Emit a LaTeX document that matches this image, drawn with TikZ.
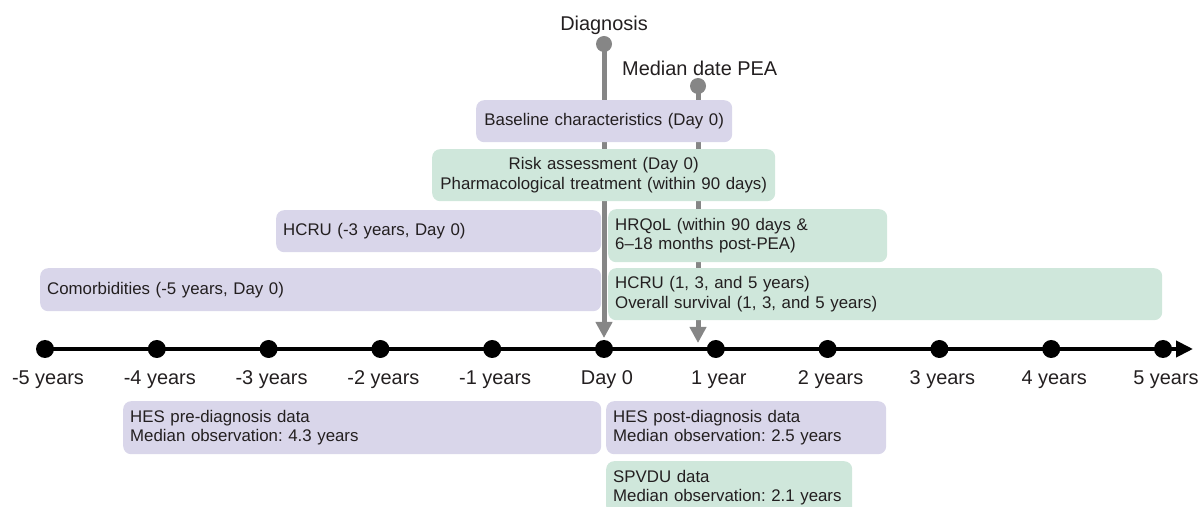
\documentclass[tikz,border=0pt]{standalone}
\usepackage{fontspec}
\setmainfont{Liberation Sans}
\usetikzlibrary{arrows.meta}
\definecolor{pfill}{HTML}{D9D6EA}
\definecolor{gfill}{HTML}{CFE7DB}
\definecolor{txt}{HTML}{231F20}
\definecolor{gline}{HTML}{868686}
\frenchspacing
\begin{document}
\begin{tikzpicture}[x=1bp,y=-1bp,
 box/.style={rounded corners=8bp, inner xsep=7bp, inner ysep=0pt, anchor=north west,
   font=\fontsize{16.9}{19.5}\selectfont, text=txt, align=left},
 pbox/.style={box, fill=pfill},
 gbox/.style={box, fill=gfill},
 tickdot/.style={circle, fill=black, minimum size=18bp, inner sep=0pt},
 tlabel/.style={font=\fontsize{20}{24}\selectfont, text=txt, anchor=base, inner xsep=0pt},
 pinhead/.style={circle, fill=gline, minimum size=16bp, inner sep=0pt},
 marker/.style={draw=gline, line width=5bp, -{Triangle[width=16bp,length=16bp]}},
]
\useasboundingbox (0,0) rectangle (1201,507);
\clip (0,0) rectangle (1201,507);

% markers
\node[pinhead] (diag) at (604,44) {};
\node[pinhead] (pea) at (698,86) {};
\coordinate (diagtip) at (604,338);
\coordinate (peatip) at (698,343);
\draw[marker] (diag.center) -- (diagtip);
\draw[marker] (pea.center) -- (peatip);
\node[tlabel] (diaglab) at (604,31) {Diagnosis};
\node[tlabel, anchor=base west] (pealab) at (622,76) {Median date PEA};

% boxes
\node[pbox, text width=242bp, minimum height=42bp, align=center] (baseline) at (476,100) {\mbox{Baseline characteristics (Day 0)}};
\node[gbox, text width=329bp, minimum height=52bp, align=center] (risk) at (432,149) {\mbox{Risk assessment (Day 0)}\\\mbox{Pharmacological treatment (within 90 days)}};
\node[pbox, text width=311bp, minimum height=42bp] (hcrul) at (276,210) {\mbox{HCRU (-3 years, Day 0)}};
\node[gbox, text width=265bp, minimum height=53bp] (hrqol) at (608,209) {\mbox{HRQoL (within 90 days \&}\\\mbox{6--18 months post-PEA)}};
\node[pbox, text width=547bp, minimum height=43bp] (comorb) at (40,268) {\mbox{Comorbidities (-5 years, Day 0)}};
\node[gbox, text width=540bp, minimum height=52bp] (hcrur) at (608,268) {\mbox{HCRU (1, 3, and 5 years)}\\\mbox{Overall survival (1, 3, and 5 years)}};
\node[pbox, text width=464bp, minimum height=53bp] (hespre) at (123,401) {\mbox{HES pre-diagnosis data}\\\mbox{Median observation: 4.3 years}};
\node[pbox, text width=266bp, minimum height=53bp] (hespost) at (606,401) {\mbox{HES post-diagnosis data}\\\mbox{Median observation: 2.5 years}};
\node[gbox, text width=232bp, minimum height=53bp] (spvdu) at (606,461) {\mbox{SPVDU data}\\\mbox{Median observation: 2.1 years}};

% timeline
\foreach \i/\lab in {0/-5 years,1/-4 years,2/-3 years,3/-2 years,4/-1 years,5/Day 0,6/1 year,7/2 years,8/3 years,9/4 years,10/5 years} {
  \node[tickdot] (t\i) at (45+111.8*\i,349) {};
  \node[tlabel] (l\i) at (48+111.8*\i,385) {\lab};
}
\coordinate (tend) at (1193,349);
\draw[line width=4bp, -{Triangle[width=16bp,length=17bp]}] (t0.center) -- (tend);
\end{tikzpicture}
\end{document}
